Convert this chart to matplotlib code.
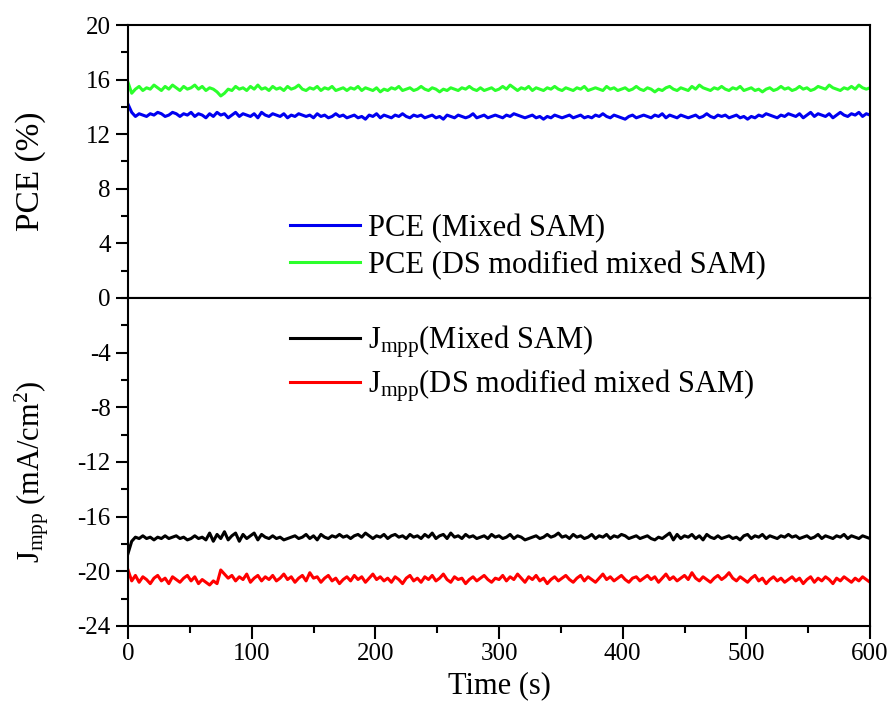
import numpy as np
import matplotlib
matplotlib.use("Agg")
import matplotlib.pyplot as plt
from matplotlib.ticker import MultipleLocator

plt.rcParams['font.family'] = ['Liberation Serif', 'DejaVu Serif']
plt.rcParams['mathtext.default'] = 'regular'
plt.rcParams['axes.unicode_minus'] = False

# ---- data (sampled every 3 s, 0..600 s) ----
pce_mixed = [
    14.2, 13.6, 13.3, 13.5, 13.4, 13.3, 13.5, 13.4, 13.6, 13.5, 13.3, 13.4, 13.6, 13.5, 13.3, 13.5, 13.4, 13.6, 13.3, 13.5,
    13.4, 13.2, 13.5, 13.3, 13.6, 13.4, 13.5, 13.2, 13.4, 13.6, 13.3, 13.5, 13.4, 13.3, 13.5, 13.2, 13.6, 13.4, 13.3, 13.5,
    13.4, 13.3, 13.5, 13.2, 13.4, 13.3, 13.5, 13.4, 13.3, 13.4, 13.2, 13.5, 13.3, 13.4, 13.2, 13.3, 13.5, 13.3, 13.4, 13.2,
    13.3, 13.4, 13.2, 13.3, 13.1, 13.4, 13.3, 13.5, 13.2, 13.4, 13.3, 13.2, 13.4, 13.3, 13.5, 13.3, 13.2, 13.4, 13.3, 13.4,
    13.2, 13.3, 13.4, 13.2, 13.3, 13.1, 13.4, 13.3, 13.2, 13.4, 13.3, 13.2, 13.3, 13.5, 13.2, 13.3, 13.4, 13.2, 13.3, 13.4,
    13.3, 13.2, 13.4, 13.3, 13.5, 13.4, 13.3, 13.2, 13.3, 13.4, 13.2, 13.3, 13.1, 13.3, 13.2, 13.4, 13.3, 13.2, 13.3, 13.4,
    13.2, 13.3, 13.4, 13.2, 13.3, 13.2, 13.4, 13.3, 13.5, 13.3, 13.2, 13.4, 13.3, 13.2, 13.1, 13.3, 13.4, 13.2, 13.3, 13.4,
    13.3, 13.2, 13.4, 13.3, 13.5, 13.2, 13.4, 13.3, 13.2, 13.4, 13.3, 13.2, 13.3, 13.4, 13.2, 13.3, 13.5, 13.3, 13.2, 13.4,
    13.3, 13.4, 13.2, 13.3, 13.4, 13.2, 13.3, 13.1, 13.3, 13.2, 13.4, 13.3, 13.5, 13.4, 13.3, 13.2, 13.4, 13.3, 13.5, 13.4,
    13.3, 13.5, 13.2, 13.4, 13.6, 13.3, 13.5, 13.4, 13.3, 13.5, 13.2, 13.4, 13.6, 13.4, 13.3, 13.5, 13.4, 13.6, 13.3, 13.5,
    13.4]
pce_ds = [
    15.8, 15.0, 15.3, 15.5, 15.2, 15.4, 15.3, 15.6, 15.4, 15.2, 15.5, 15.3, 15.6, 15.4, 15.2, 15.5, 15.3, 15.4, 15.6, 15.3,
    15.5, 15.2, 15.4, 15.3, 15.1, 14.8, 15.0, 15.3, 15.2, 15.5, 15.3, 15.4, 15.2, 15.5, 15.3, 15.6, 15.3, 15.4, 15.2, 15.5,
    15.3, 15.4, 15.2, 15.5, 15.3, 15.4, 15.6, 15.3, 15.2, 15.4, 15.3, 15.5, 15.2, 15.4, 15.3, 15.5, 15.2, 15.3, 15.4, 15.2,
    15.4, 15.3, 15.5, 15.2, 15.4, 15.3, 15.2, 15.4, 15.1, 15.3, 15.2, 15.4, 15.3, 15.5, 15.2, 15.3, 15.4, 15.2, 15.3, 15.5,
    15.3, 15.2, 15.4, 15.3, 15.1, 15.3, 15.2, 15.4, 15.3, 15.2, 15.4, 15.3, 15.5, 15.3, 15.2, 15.4, 15.2, 15.3, 15.4, 15.2,
    15.3, 15.5, 15.3, 15.6, 15.4, 15.2, 15.4, 15.3, 15.5, 15.2, 15.4, 15.3, 15.2, 15.4, 15.3, 15.5, 15.3, 15.2, 15.4, 15.3,
    15.2, 15.4, 15.3, 15.5, 15.2, 15.3, 15.4, 15.3, 15.2, 15.5, 15.3, 15.4, 15.2, 15.3, 15.4, 15.2, 15.3, 15.5, 15.3, 15.2,
    15.4, 15.3, 15.1, 15.3, 15.2, 15.4, 15.5, 15.3, 15.2, 15.4, 15.3, 15.2, 15.5, 15.3, 15.6, 15.4, 15.3, 15.2, 15.4, 15.3,
    15.5, 15.3, 15.2, 15.4, 15.3, 15.5, 15.2, 15.3, 15.4, 15.2, 15.3, 15.1, 15.3, 15.4, 15.2, 15.3, 15.5, 15.3, 15.4, 15.2,
    15.3, 15.5, 15.3, 15.4, 15.2, 15.3, 15.5, 15.4, 15.3, 15.6, 15.4, 15.3, 15.2, 15.4, 15.3, 15.5, 15.3, 15.6, 15.4, 15.3,
    15.4]
jmpp_mixed = [
    -18.7, -17.8, -17.5, -17.6, -17.4, -17.6, -17.5, -17.7, -17.5, -17.6, -17.4, -17.6, -17.5, -17.4, -17.6, -17.5, -17.7, -17.6, -17.4, -17.6,
    -17.5, -17.7, -17.2, -17.8, -17.3, -17.6, -17.1, -17.7, -17.4, -17.2, -17.8, -17.3, -17.6, -17.4, -17.2, -17.7, -17.3, -17.5, -17.6, -17.4,
    -17.6, -17.5, -17.7, -17.6, -17.5, -17.4, -17.6, -17.5, -17.3, -17.6, -17.4, -17.7, -17.3, -17.5, -17.6, -17.4, -17.5, -17.3, -17.5, -17.4,
    -17.6, -17.4, -17.3, -17.5, -17.2, -17.4, -17.6, -17.4, -17.5, -17.3, -17.6, -17.4, -17.3, -17.5, -17.4, -17.6, -17.3, -17.5, -17.4, -17.6,
    -17.3, -17.5, -17.2, -17.6, -17.4, -17.3, -17.6, -17.2, -17.5, -17.4, -17.6, -17.3, -17.5, -17.4, -17.6, -17.5, -17.4, -17.6, -17.3, -17.5,
    -17.4, -17.6, -17.5, -17.3, -17.6, -17.4, -17.5, -17.7, -17.6, -17.5, -17.4, -17.6, -17.5, -17.3, -17.5, -17.4, -17.2, -17.5, -17.4, -17.6,
    -17.3, -17.5, -17.4, -17.6, -17.5, -17.3, -17.6, -17.4, -17.5, -17.3, -17.6, -17.4, -17.5, -17.3, -17.4, -17.6, -17.5, -17.4, -17.6, -17.5,
    -17.4, -17.6, -17.7, -17.5, -17.6, -17.4, -17.2, -17.7, -17.3, -17.6, -17.4, -17.5, -17.3, -17.6, -17.4, -17.7, -17.3, -17.5, -17.6, -17.4,
    -17.6, -17.5, -17.4, -17.6, -17.5, -17.7, -17.4, -17.3, -17.6, -17.4, -17.5, -17.3, -17.6, -17.4, -17.5, -17.6, -17.4, -17.5, -17.3, -17.5,
    -17.4, -17.6, -17.5, -17.4, -17.6, -17.5, -17.3, -17.6, -17.4, -17.5, -17.6, -17.4, -17.5, -17.3, -17.6, -17.4, -17.5, -17.6, -17.4, -17.5,
    -17.6]
jmpp_ds = [
    -19.9, -20.7, -20.3, -20.8, -20.4, -20.6, -20.9, -20.5, -20.3, -20.7, -20.5, -20.9, -20.4, -20.6, -20.8, -20.5, -20.3, -20.7, -20.4, -20.9,
    -20.6, -20.8, -21.0, -20.7, -20.9, -19.9, -20.2, -20.5, -20.3, -20.7, -20.4, -20.6, -20.2, -20.8, -20.5, -20.3, -20.7, -20.4, -20.6, -20.3,
    -20.7, -20.5, -20.2, -20.6, -20.4, -20.8, -20.5, -20.3, -20.7, -20.1, -20.5, -20.4, -20.8, -20.5, -20.3, -20.7, -20.5, -20.9, -20.6, -20.4,
    -20.7, -20.3, -20.6, -20.4, -20.8, -20.5, -20.2, -20.6, -20.4, -20.7, -20.5, -20.8, -20.4, -20.6, -20.9, -20.5, -20.3, -20.7, -20.5, -20.8,
    -20.4, -20.6, -20.3, -20.7, -20.5, -20.2, -20.6, -20.8, -20.4, -20.6, -20.5, -20.9, -20.6, -20.4, -20.7, -20.5, -20.3, -20.6, -20.8, -20.5,
    -20.6, -20.3, -20.7, -20.4, -20.6, -20.2, -20.5, -20.8, -20.4, -20.6, -20.3, -20.7, -20.5, -20.9, -20.6, -20.4, -20.7, -20.5, -20.3, -20.6,
    -20.8, -20.5, -20.3, -20.7, -20.4, -20.6, -20.8, -20.5, -20.2, -20.6, -20.4, -20.7, -20.5, -20.3, -20.6, -20.8, -20.5, -20.4, -20.7, -20.5,
    -20.3, -20.6, -20.4, -20.8, -20.5, -20.2, -20.6, -20.4, -20.7, -20.5, -20.3, -20.6, -20.1, -20.5, -20.7, -20.4, -20.6, -20.8, -20.5, -20.3,
    -20.6, -20.4, -20.1, -20.5, -20.7, -20.4, -20.6, -20.8, -20.5, -20.3, -20.7, -20.5, -20.9, -20.6, -20.4, -20.7, -20.5, -20.8, -20.6, -20.4,
    -20.7, -20.5, -20.9, -20.6, -20.4, -20.8, -20.5, -20.7, -20.4, -20.6, -20.9, -20.5, -20.7, -20.4, -20.6, -20.8, -20.5, -20.7, -20.4, -20.6,
    -20.8]
time_start, time_end = 0, 600

labels_top = ['PCE (Mixed SAM)', 'PCE (DS modified mixed SAM)']
labels_bot = [r'J$_{mpp}$(Mixed SAM)', r'J$_{mpp}$(DS modified mixed SAM)']

fig = plt.figure(figsize=(8.91, 7.18), dpi=100)
L, R = 128 / 891, 870 / 891
top_y, mid_y, bot_y = 1 - 25 / 718, 1 - 298 / 718, 1 - 626 / 718
ax1 = fig.add_axes([L, mid_y, R - L, top_y - mid_y])
ax2 = fig.add_axes([L, bot_y, R - L, mid_y - bot_y], sharex=ax1)

lw = 2.2
series = [(ax1, pce_mixed, '#0000f0', labels_top[0]),
          (ax1, pce_ds, '#2cff2c', labels_top[1]),
          (ax2, jmpp_mixed, '#000000', labels_bot[0]),
          (ax2, jmpp_ds, '#ff0000', labels_bot[1])]
for ax, vals, c, lab in series:
    t = np.linspace(time_start, time_end, len(vals))
    ax.plot(t, vals, color=c, lw=lw, label=lab)

ax1.set_ylim(0, 20)
ax2.set_ylim(-24, 0)
ax1.set_xlim(0, 600)
ax1.yaxis.set_major_locator(MultipleLocator(4))
ax1.yaxis.set_minor_locator(MultipleLocator(2))
ax2.yaxis.set_major_locator(MultipleLocator(4))
ax2.yaxis.set_minor_locator(MultipleLocator(2))
ax2.xaxis.set_major_locator(MultipleLocator(100))
ax2.xaxis.set_minor_locator(MultipleLocator(50))
ax2.set_yticks([-4, -8, -12, -16, -20, -24])

for ax in (ax1, ax2):
    for s in ax.spines.values():
        s.set_linewidth(1.5)
    ax.tick_params(which='major', direction='out', length=9, width=1.5, labelsize=18,
                   top=False, right=False)
    ax.tick_params(which='minor', direction='out', length=5, width=1.5, top=False, right=False)
ax1.tick_params(axis='x', which='both', bottom=False, labelbottom=False)

ax2.set_xlabel('Time (s)', fontsize=22, labelpad=4)
ax1.set_ylabel('PCE (%)', fontsize=24)
ax2.set_ylabel(r'J$_{mpp}$ (mA/cm$^{2}$)', fontsize=22)
ax1.yaxis.set_label_coords(-0.111, 0.463)
ax2.yaxis.set_label_coords(-0.104, 0.47)

leg_kw = dict(frameon=False, fontsize=22, handlelength=2.3, handletextpad=0.25,
              labelspacing=0.25, borderpad=0, borderaxespad=0, loc='center left',
              bbox_transform=fig.transFigure)
ax1.legend(bbox_to_anchor=(290 / 891, 1 - 247 / 718), **leg_kw)
ax2.legend(bbox_to_anchor=(290 / 891, 1 - 364 / 718), **leg_kw)

fig.savefig('out.png', dpi=100)
